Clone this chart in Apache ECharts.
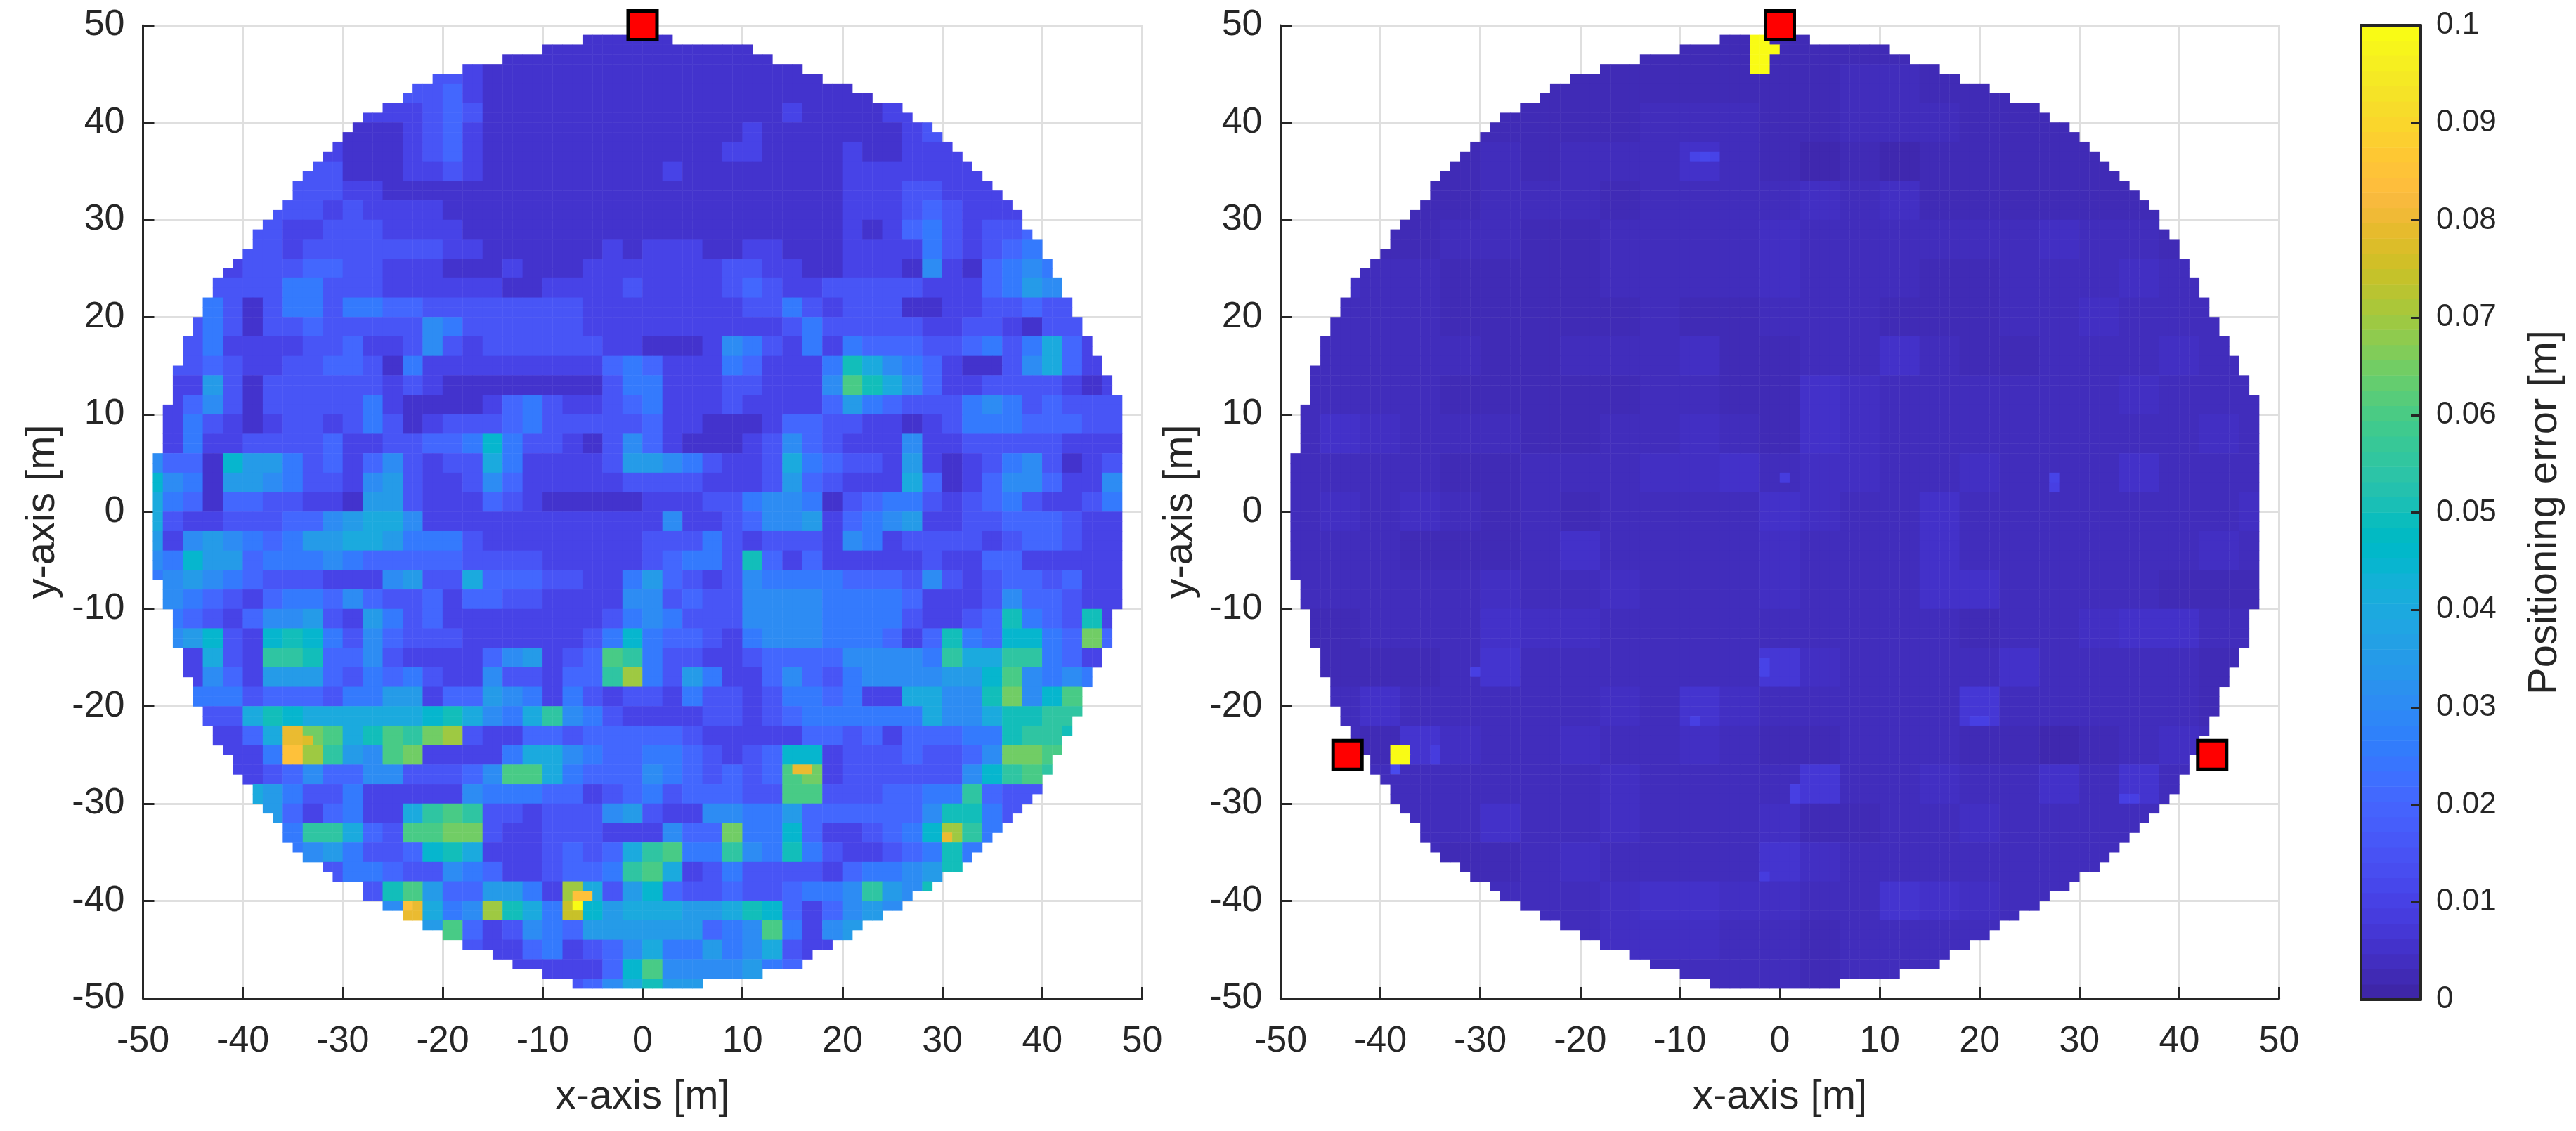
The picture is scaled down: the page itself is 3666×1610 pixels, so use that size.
<!DOCTYPE html>
<html>
<head>
<meta charset="utf-8">
<style>html,body{margin:0;background:#fff}#chart{width:3666px;height:1610px}</style>
<script src="https://cdn.jsdelivr.net/npm/echarts@6/dist/echarts.min.js"></script>
</head>
<body>
<div id="chart"></div>
<script>
// columns of the circle per 1 m row, top row (y 48..49) first
const rowStart = [-6,-10,-14,-18,-21,-23,-24,-26,-28,-29,-30,-31,-32,-33,-34,-35,-35,-36,-37,-38,-39,-39,-40,-41,-42,-43,-43,-44,-44,-45,-45,-46,-46,-46,-47,-47,-47,-47,-48,-48,-48,-48,-48,
  -49,-49,-49,-49,-49,-49,-49,-49,-49,-49,-49,-49,-49,-48,-48,-48,-47,-47,-47,-47,-46,-46,-46,-45,-45,-45,-44,-44,-43,-43,-42,-41,-41,-40,-39,-39,-38,-37,-36,-36,-35,-34,-32,-31,-29,-28,-26,-24,-22,-20,-18,-15,-13,-10,-7];
const rowEnd = [3,11,13,16,18,21,23,26,27,29,30,31,32,33,34,35,36,37,38,38,39,40,40,41,41,42,42,43,43,44,44,45,45,46,46,47,47,48,48,48,48,48,48,
  48,48,48,48,48,48,48,48,48,48,48,48,48,48,48,48,47,47,47,47,46,46,45,45,44,44,44,43,43,42,42,41,41,40,40,39,38,37,36,35,34,33,32,30,29,27,26,24,22,21,19,17,16,12,6];

// left panel, 2 m blocks, one char per block, '.' = outside the circle
const levelChars = '0123456789abcdefghijk';
const levelStep = 0.005;
const errorRowsLeft = [
  '..... ..... ..... ..... ..111 11... ..... ..... ..... .....',
  '..... ..... ..... ...11 11111 11111 11... ..... ..... .....',
  '..... ..... ....3 32111 11111 11111 11111 ..... ..... .....',
  '..... ..... ...33 42111 11111 11111 11111 111.. ..... .....',
  '..... ..... .2223 43111 11111 11111 11211 1122. ..... .....',
  '..... ..... 11123 42111 11111 11111 21111 11123 1.... .....',
  '..... ....2 11123 42111 11111 11112 21111 21122 21... .....',
  '..... ...33 11122 32111 11111 12111 11111 22222 222.. .....',
  '..... ..333 22111 11111 11111 11111 11111 22233 2222. .....',
  '..... .3332 32222 11111 11111 11111 11111 22234 3222. .....',
  '..... 33223 33222 21111 11111 11111 11111 21245 32334 .....',
  '..... 33233 33333 22111 11121 22211 22111 22225 32345 .....',
  '....2 33344 33222 11121 11222 22223 32211 22216 21456 5....',
  '...33 33553 33222 22211 22223 22223 43223 33332 22457 6....',
  '...53 13553 55443 33333 33222 22222 33532 33311 22334 33...',
  '..353 13343 33336 53333 33222 22222 22353 33332 23321 33...',
  '..352 22233 42236 32333 33322 11126 53252 54443 34535 842..',
  '.3343 22334 43152 22222 22245 42225 42225 a8654 21136 842..',
  '.2273 13333 33232 11111 11135 52223 32226 ca864 22333 3212.',
  '.2463 13333 35211 11245 32234 52223 22224 75433 35653 4333.',
  '.2532 12332 35312 33345 33333 42211 12443 32212 35554 4433.',
  '.2522 33334 22334 45953 32136 42111 23643 22262 23333 3222.',
  '64419 77534 24632 33852 22237 76532 23854 33272 12356 3123.',
  '96517 76533 26732 23642 22223 33322 23743 22284 12466 4226.',
  '85414 43322 17732 22432 11111 22233 56651 34553 23453 2235.',
  '83223 33446 78862 22222 22222 26223 46672 45672 23344 4322.',
  '72676 54577 88755 53222 22222 33353 23332 65233 33234 4322.',
  '65977 45556 54444 43333 22222 34553 a4242 22223 22442 2222.',
  '56765 43332 22673 38444 33225 74323 65555 44436 32344 3422.',
  '.6543 24554 64334 24433 22226 63433 66665 55542 22364 4322.',
  '.5432 46673 27534 22222 22235 65333 66665 55532 234a5 43a2.',
  '.6793 29a95 36433 32222 22359 54432 56665 55424 a5499 54d4.',
  '..283 2bba4 46322 22467 234cb 53322 34444 66665 b88bb 542..',
  '..264 27774 35453 22633 244be 53752 24643 56666 779c6 565..',
  '..555 34443 55772 44765 25323 32533 23554 52288 66ad6 9c...',
  '...33 8a988 88889 a8658 b6532 22233 23455 55558 668aa bb...',
  '...22 48gdc 8acbd e3224 43444 44322 22244 34244 455ab ba...',
  '....2 25heb 76cd2 22258 86544 55432 34992 33343 346dd c....',
  '....2 23464 46633 346cc 85444 65434 34cd2 33333 369bc b....',
  '..... 87533 52222 26555 44234 53444 33cc3 33445 5b433 .....',
  '..... .7424 5228b cb332 33367 32266 55744 44446 aa53. .....',
  '..... ..5bb 843cc dd322 33322 2644d 55942 23459 eb5.. .....',
  '..... ..567 53349 a8222 34348 bc55b 65a53 22345 a5... .....',
  '..... ....3 55433 65422 3445b c8235 33332 45567 a.... .....',
  '..... ..... .3ac7 44775 2e837 94334 33455 6b76a ..... .....',
  '..... ..... ..6g8 56ea8 5f978 88778 a9424 676.. ..... .....',
  '..... ..... ....7 c4236 54777 77745 6c526 7.... ..... .....',
  '..... ..... ..... .3224 52346 85575 68322 ..... ..... .....',
  '..... ..... ..... ...22 22249 c6666 754.. ..... ..... .....',
  '..... ..... ..... ..... .3468 a77.. ..... ..... ..... .....'
];
// single 1 m cells that stand out from their block: [x, y, error]
const hotCellsLeft = [
  [-36,-25,0.085],[-35,-25,0.085],[-35,-24,0.08],[-34,-24,0.078],[-24,-41,0.085],
  [-7,-41,0.1],[-7,-40,0.085],[-6,-40,0.085],[30,-34,0.08],[15,-27,0.08],[16,-27,0.08]
];

// right panel, 4 m blocks, digits are steps of rightStep
const rightStep = 0.0009;
const errorRowsRight = [
  '33333 33332 22222 22333 33333',
  '33333 32222 22223 32223 33333',
  '33333 22223 33223 33222 23333',
  '33332 32333 53212 12222 23333',
  '33322 33323 33343 42222 22233',
  '32223 32233 33433 33334 33222',
  '34332 22233 33433 32233 34332',
  '33332 22223 22333 22233 43333',
  '33333 22333 42233 53223 33433',
  '33332 22223 32254 33333 34333',
  '35433 32233 43254 33333 33343',
  '33332 23334 45344 33433 35333',
  '34343 23233 33543 35333 33334',
  '33322 23533 33433 35333 33343',
  '33333 43343 33433 35533 33222',
  '22333 54433 33333 33233 45533',
  '32223 63333 33743 33353 33322',
  '33533 33343 64333 33733 33322',
  '33264 33433 43223 33221 23433',
  '33333 33343 33373 34335 36333',
  '33333 53343 33422 33433 33333',
  '33332 23433 33643 33333 33333',
  '33333 33345 54433 65433 33333',
  '33333 33344 43323 33333 33333',
  '33333 33333 33323 33333 33333'
];
const hotCellsRight = [
  [-3,48,0.1],[-2,48,0.1],[-3,47,0.1],[-2,47,0.1],[-1,47,0.1],[-3,46,0.1],[-2,46,0.1],[-3,45,0.1],[-2,45,0.1],
  [-39,-25,0.1],[-38,-25,0.1],[-39,-26,0.1],[-38,-26,0.1],[-39,-27,0.012],
  [-9,36,0.01],[-8,36,0.011],[-7,36,0.01],[27,3,0.01],[27,2,0.009],[0,3,0.008],[-2,-17,0.01],[-2,-16,0.01],
  [20,-22,0.009],[19,-22,0.009],[-9,-22,0.009],[1,-29,0.009],[1,-30,0.009],[34,-30,0.009],[35,-30,0.009],
  [-31,-17,0.009],[-35,-26,0.008],[-35,-25,0.008],[-2,-38,0.008]
];

// transmitters
const anchorsLeft = [[0, 50]];
const anchorsRight = [[0, 50], [-43.3, -25], [43.3, -25]];

const cellCoords = Array.from({length: 100}, (_, i) => i - 50);

// parula, 64 steps
const parula = [
  [.2422,.1504,.6603],[.2504,.1650,.7076],[.2578,.1818,.7511],[.2647,.1978,.7952],[.2706,.2147,.8364],[.2751,.2342,.8710],[.2783,.2559,.8991],[.2803,.2782,.9221],
  [.2813,.3006,.9414],[.2810,.3228,.9579],[.2795,.3447,.9717],[.2760,.3667,.9829],[.2699,.3892,.9906],[.2602,.4123,.9952],[.2440,.4358,.9988],[.2206,.4603,.9973],
  [.1963,.4847,.9892],[.1834,.5074,.9798],[.1786,.5289,.9682],[.1764,.5499,.9520],[.1687,.5703,.9359],[.1540,.5902,.9218],[.1460,.6091,.9079],[.1380,.6276,.8973],
  [.1248,.6459,.8883],[.1113,.6635,.8763],[.0952,.6798,.8598],[.0689,.6948,.8394],[.0297,.7082,.8163],[.0036,.7203,.7917],[.0067,.7312,.7660],[.0433,.7411,.7394],
  [.0964,.7500,.7120],[.1408,.7584,.6842],[.1717,.7670,.6554],[.1938,.7758,.6251],[.2161,.7843,.5923],[.2470,.7918,.5567],[.2906,.7973,.5188],[.3406,.8008,.4789],
  [.3909,.8029,.4354],[.4456,.8024,.3909],[.5044,.7993,.3480],[.5616,.7942,.3045],[.6174,.7876,.2612],[.6720,.7793,.2227],[.7242,.7698,.1910],[.7738,.7598,.1646],
  [.8203,.7498,.1535],[.8634,.7406,.1596],[.9035,.7330,.1774],[.9393,.7288,.2100],[.9728,.7294,.2394],[.9956,.7434,.2371],[.9970,.7659,.2199],[.9952,.7861,.1996],
  [.9892,.8136,.1885],[.9786,.8386,.1736],[.9676,.8639,.1650],[.9610,.8890,.1537],[.9597,.9135,.1423],[.9628,.9373,.1265],[.9691,.9606,.1064],[.9769,.9839,.0805]
];
const parulaCss = parula.map(c => `rgb(${c.map(v => Math.round(v * 255)).join(',')})`);
const colorbarTicks = ['0','0.01','0.02','0.03','0.04','0.05','0.06','0.07','0.08','0.09','0.1'];

const textColor = '#262626';
const gridColor = '#dfdfdf';
const font = '"Liberation Sans", Arial, sans-serif';

// turn block strings and single cells into heatmap cells
function buildCells(rows, blockSize, decode, hotCells) {
  const strs = rows.map(r => r.replace(/ /g, ''));
  const hot = {};
  hotCells.forEach(c => { hot[c[0] + '_' + c[1]] = c[2]; });
  const cells = [];
  rowStart.forEach((start, i) => {
    const y = 48 - i;
    const str = strs[Math.floor((49 - y) / blockSize)];
    for (let x = start; x < rowEnd[i]; x++) {
      const ch = str[Math.floor((x + 50) / blockSize)];
      const key = x + '_' + y;
      if (hot[key] !== undefined) cells.push([x + 50, y + 50, hot[key]]);
      else if (ch !== '.') cells.push([x + 50, y + 50, decode(ch)]);
    }
  });
  return cells;
}
const cellsLeft = buildCells(errorRowsLeft, 2, ch => levelChars.indexOf(ch) * levelStep, hotCellsLeft);
const cellsRight = buildCells(errorRowsRight, 4, ch => Number(ch) * rightStep, hotCellsRight);

function hiddenCategory(position, gridIndex) {
  return {type: 'category', data: cellCoords, gridIndex, position, show: false};
}
function valueAxis(position, gridIndex, name) {
  const isX = position === 'bottom';
  return {
    type: 'value', gridIndex, position, min: -50, max: 50, interval: 10,
    name, nameLocation: 'middle', nameGap: isX ? 112 : 114,
    nameTextStyle: {fontFamily: font, fontSize: 58, color: textColor},
    axisLine: {show: true, onZero: false, lineStyle: {color: textColor, width: 3}},
    axisTick: {show: true, inside: true, length: 16, lineStyle: {color: textColor, width: 3}},
    axisLabel: {fontFamily: font, fontSize: 52, color: textColor, margin: isX ? 36 : 26},
    splitLine: {show: true, lineStyle: {color: gridColor, width: 3}}
  };
}
function anchorSeries(data, xAxisIndex, yAxisIndex) {
  return {
    type: 'scatter', data, xAxisIndex, yAxisIndex, symbol: 'rect', symbolSize: 41, z: 6, clip: false, silent: true,
    itemStyle: {color: '#ff0000', borderColor: '#000', borderWidth: 5, opacity: 1}
  };
}
function heat(data, xAxisIndex, yAxisIndex) {
  return {type: 'heatmap', data, xAxisIndex, yAxisIndex, progressive: 0, silent: true, emphasis: {disabled: true}};
}

const frameLine = {show: true, lineStyle: {color: textColor, width: 4}};
const chart = echarts.init(document.getElementById('chart'), null, {renderer: 'canvas'});
chart.setOption({
  animation: false,
  backgroundColor: '#fff',
  grid: [
    {left: 203.5, top: 36, width: 1422, height: 1385},
    {left: 1822.5, top: 36, width: 1421, height: 1385},
    {left: 3360, top: 36, width: 85, height: 1387}
  ],
  xAxis: [
    hiddenCategory('top', 0), valueAxis('bottom', 0, 'x-axis [m]'),
    hiddenCategory('top', 1), valueAxis('bottom', 1, 'x-axis [m]'),
    {type: 'category', data: [''], gridIndex: 2, position: 'bottom', z: 10, axisLine: frameLine, axisTick: {show: false}, axisLabel: {show: false}},
    {type: 'category', data: [''], gridIndex: 2, position: 'top', z: 10, axisLine: frameLine, axisTick: {show: false}, axisLabel: {show: false}}
  ],
  yAxis: [
    hiddenCategory('right', 0), valueAxis('left', 0, 'y-axis [m]'),
    hiddenCategory('right', 1), valueAxis('left', 1, 'y-axis [m]'),
    {type: 'category', data: parula.map((_, i) => i), gridIndex: 2, position: 'left', z: 10, axisLine: frameLine, axisTick: {show: false}, axisLabel: {show: false}},
    {
      type: 'value', gridIndex: 2, position: 'right', min: 0, max: 0.1, interval: 0.01, z: 10,
      name: 'Positioning error [m]', nameLocation: 'middle', nameRotate: 90, nameGap: 148,
      nameTextStyle: {fontFamily: font, fontSize: 58, color: textColor},
      axisLine: frameLine,
      axisTick: {show: true, inside: true, length: 14, lineStyle: {color: textColor, width: 3}},
      axisLabel: {fontFamily: font, fontSize: 44, color: textColor, margin: 22, formatter: (v) => colorbarTicks[Math.round(v * 100)]},
      splitLine: {show: false}
    }
  ],
  visualMap: [
    {type: 'continuous', show: false, min: 0, max: 0.1, dimension: 2, seriesIndex: [0, 2], inRange: {color: parulaCss}},
    {type: 'continuous', show: false, min: 0, max: parula.length - 1, dimension: 2, seriesIndex: [4], inRange: {color: parulaCss}}
  ],
  series: [
    heat(cellsLeft, 0, 0),
    anchorSeries(anchorsLeft, 1, 1),
    heat(cellsRight, 2, 2),
    anchorSeries(anchorsRight, 3, 3),
    heat(parula.map((_, i) => [0, i, i]), 4, 4)
  ]
});
</script>
</body>
</html>
